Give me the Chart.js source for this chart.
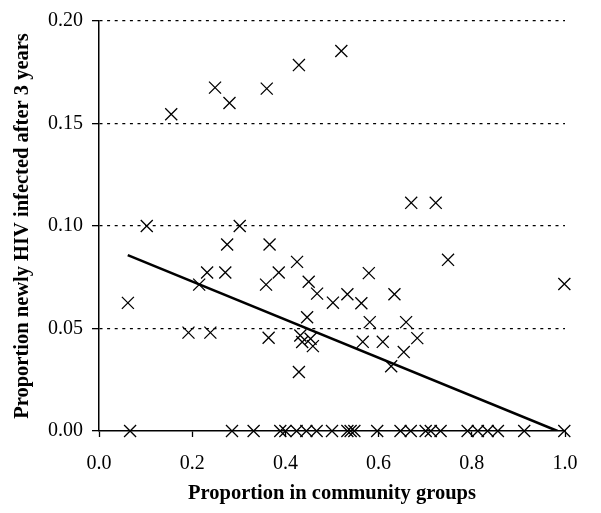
<!DOCTYPE html>
<html>
<head>
<meta charset="utf-8">
<script src="https://cdn.jsdelivr.net/npm/chart.js@4"></script>
<style>
  html, body { margin: 0; padding: 0; background: #fff; }
  #wrap { width: 601px; height: 513px; }
</style>
</head>
<body>
<div id="wrap"><canvas id="hiv-scatter"></canvas></div>
<script>
// proportion in community groups (x) and proportion newly infected after 3 years (y)
const groupShare = [
    0.062, 0.1025, 0.155, 0.192, 0.215, 0.232, 0.239, 0.249, 0.271, 0.275,
    0.280, 0.302, 0.3585, 0.360, 0.364, 0.366, 0.3857, 0.425, 0.429, 0.429,
    0.432, 0.436, 0.4466, 0.450, 0.454, 0.459, 0.468, 0.502, 0.520, 0.533,
    0.563, 0.566, 0.579, 0.581, 0.609, 0.627, 0.634, 0.654, 0.659, 0.670,
    0.683, 0.7226, 0.749, 0.9986,
    0.0667, 0.2854, 0.3318, 0.389, 0.400, 0.424, 0.445, 0.467, 0.500, 0.533,
    0.540, 0.548, 0.597, 0.647, 0.669, 0.701, 0.712, 0.733, 0.791, 0.813,
    0.834, 0.856, 0.9125, 0.9985
];
const newlyInfected = [
    0.0625, 0.100, 0.1545, 0.048, 0.0714, 0.0773, 0.048, 0.1675, 0.0773, 0.091,
    0.160, 0.100, 0.0714, 0.167, 0.0455, 0.091, 0.0773, 0.0825, 0.1785, 0.0288,
    0.0466, 0.0434, 0.0555, 0.0728, 0.045, 0.0414, 0.067, 0.0626, 0.1854, 0.0667,
    0.0623, 0.0435, 0.077, 0.0531, 0.0435, 0.0316, 0.0667, 0.0385, 0.0531, 0.1113,
    0.0453, 0.1113, 0.0835, 0.0717,
    0, 0, 0, 0, 0, 0, 0, 0, 0, 0,
    0, 0, 0, 0, 0, 0, 0, 0, 0, 0,
    0, 0, 0, 0
];
// fitted regression line end points
const trendX = [0.0617, 0.984];
const trendY = [0.0858, 0];

const xTicks = [0, 0.2, 0.4, 0.6, 0.8, 1.0];
const yTicks = [0, 0.05, 0.10, 0.15, 0.20];

const serif = 'Liberation Serif';

new Chart(
    document.getElementById('hiv-scatter'),
    {
        type: 'scatter',
        data: {
            datasets: [
                {
                    label: 'Communities',
                    data: groupShare.map((x, i) => ({x: x, y: newlyInfected[i]})),
                    pointStyle: 'crossRot',
                    pointRadius: 8.5,
                    pointBorderWidth: 1.3,
                    borderColor: '#000',
                    backgroundColor: '#000',
                    clip: false,
                    order: 2
                },
                {
                    type: 'line',
                    label: 'Trend',
                    data: trendX.map((x, i) => ({x: x, y: trendY[i]})),
                    borderColor: '#000',
                    borderWidth: 2.6,
                    pointRadius: 0,
                    fill: false,
                    order: 1
                }
            ]
        },
        options: {
            responsive: true,
            maintainAspectRatio: false,
            animation: false,
            layout: {padding: {left: 0, right: 36, top: 19, bottom: 0}},
            plugins: {
                legend: {display: false},
                tooltip: {enabled: false}
            },
            scales: {
                x: {
                    type: 'linear',
                    min: 0,
                    max: 1,
                    afterBuildTicks: s => { s.ticks = xTicks.map(v => ({value: v})); },
                    afterFit: s => { s.height = 82; },
                    ticks: {
                        color: '#000',
                        font: {family: serif, size: 20},
                        padding: 15,
                        callback: v => v.toFixed(1)
                    },
                    grid: {
                        drawOnChartArea: false,
                        drawTicks: true,
                        tickLength: 6,
                        tickColor: '#000',
                        tickWidth: 1.3
                    },
                    border: {color: '#000', width: 1.5},
                    title: {
                        display: true,
                        text: 'Proportion in community groups',
                        color: '#000',
                        font: {family: serif, size: 20.5, weight: 'bold'},
                        padding: {top: 0, bottom: 6.5}
                    }
                },
                y: {
                    min: 0,
                    max: 0.2,
                    afterBuildTicks: s => { s.ticks = yTicks.map(v => ({value: v})); },
                    afterFit: s => { s.width = 99; },
                    ticks: {
                        color: '#000',
                        font: {family: serif, size: 20},
                        padding: 9,
                        callback: v => v.toFixed(2)
                    },
                    grid: {
                        color: ctx => (ctx.tick && ctx.tick.value === 0) ? 'rgba(0,0,0,0)' : '#000',
                        lineWidth: 1.3,
                        tickLength: 7,
                        tickColor: '#000',
                        tickWidth: 1.3
                    },
                    border: {color: '#000', width: 1.5, dash: [3, 4.6]},
                    title: {
                        display: true,
                        text: 'Proportion newly HIV infected after 3 years',
                        color: '#000',
                        font: {family: serif, size: 20.5, weight: 'bold'},
                        padding: {top: 10, bottom: 0}
                    }
                }
            }
        }
    }
);
</script>
</body>
</html>
